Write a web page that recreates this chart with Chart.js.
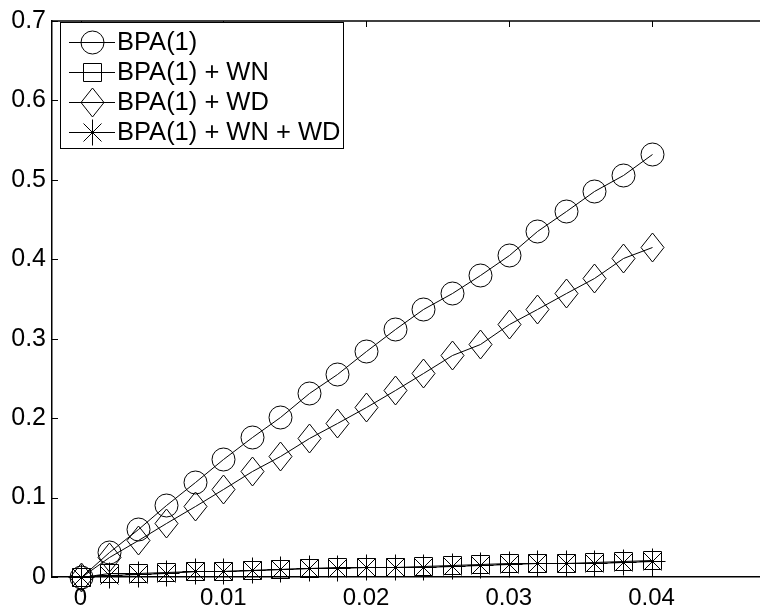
<!DOCTYPE html>
<html>
<head>
<meta charset="utf-8">
<script src="https://cdn.jsdelivr.net/npm/chart.js@4.4.1/dist/chart.umd.min.js"></script>
<style>
  html, body { margin: 0; padding: 0; background: #fff; overflow: hidden; }
</style>
</head>
<body>
<canvas id="plot" width="760" height="613"></canvas>
<script>
// values
const xValues = [0, 0.002, 0.004, 0.006, 0.008, 0.010, 0.012, 0.014, 0.016, 0.018, 0.020,
                 0.022, 0.024, 0.026, 0.028, 0.030, 0.032, 0.034, 0.036, 0.038, 0.040];
const bpa     = [0, 0.031, 0.061, 0.091, 0.120, 0.149, 0.176, 0.202, 0.232, 0.256, 0.284,
                 0.312, 0.338, 0.357, 0.380, 0.406, 0.435, 0.461, 0.486, 0.506, 0.533];
const bpaWN   = [0, 0.005, 0.005, 0.006, 0.007, 0.008, 0.009, 0.010, 0.011, 0.012, 0.012,
                 0.013, 0.014, 0.015, 0.016, 0.017, 0.018, 0.018, 0.019, 0.020, 0.021];
const bpaWD   = [0, 0.025, 0.046, 0.068, 0.090, 0.111, 0.133, 0.152, 0.175, 0.194, 0.214,
                 0.235, 0.257, 0.280, 0.293, 0.318, 0.338, 0.358, 0.376, 0.402, 0.416];
const bpaWNWD = [0, 0.003, 0.004, 0.005, 0.007, 0.008, 0.009, 0.010, 0.011, 0.011, 0.012,
                 0.013, 0.013, 0.014, 0.015, 0.016, 0.017, 0.017, 0.018, 0.019, 0.020];
const seriesNames = ['BPA(1)', 'BPA(1) + WN', 'BPA(1) + WD', 'BPA(1) + WN + WD'];
const xTicks = [0, 0.01, 0.02, 0.03, 0.04];
const yTicks = [0, 0.1, 0.2, 0.3, 0.4, 0.5, 0.6, 0.7];

const FONT = "'Liberation Sans', Arial, Helvetica, sans-serif";

// matlab-like marker images (33px, centre at 16.5)
function marker(kind) {
    const c = document.createElement('canvas');
    c.width = 33; c.height = 33;
    const g = c.getContext('2d');
    g.strokeStyle = '#000';
    g.lineWidth = 1;
    const m = 16.5;
    g.beginPath();
    if (kind === 'circle') {
        g.arc(m, m, 11.5, 0, Math.PI * 2);
    } else if (kind === 'square') {
        g.rect(m - 9, m - 9, 18, 18);
    } else if (kind === 'diamond') {
        g.moveTo(m, m - 14.5); g.lineTo(m + 11.5, m);
        g.lineTo(m, m + 14.5); g.lineTo(m - 11.5, m); g.closePath();
    } else {
        g.moveTo(m, m - 13); g.lineTo(m, m + 13);
        g.moveTo(m - 13, m); g.lineTo(m + 13, m);
        g.moveTo(m - 9, m - 9); g.lineTo(m + 9, m + 9);
        g.moveTo(m - 9, m + 9); g.lineTo(m + 9, m - 9);
    }
    g.stroke();
    return c;
}
const markers = [marker('circle'), marker('square'), marker('diamond'), marker('star')];

function pts(ys) { return xValues.map((x, i) => ({ x: x, y: ys[i] })); }
function ds(i, ys) {
    return {
        label: seriesNames[i],
        data: pts(ys),
        borderColor: '#000',
        borderWidth: 1,
        pointStyle: markers[i],
        pointRadius: 11,
        tension: 0,
        clip: false
    };
}

// snap points to pixel centres so the marker images stay sharp
const snap = {
    id: 'snap',
    beforeDatasetsDraw(chart) {
        chart.data.datasets.forEach((d, i) => {
            chart.getDatasetMeta(i).data.forEach(el => {
                el.x = Math.round(el.x) + 0.5;
                el.y = Math.round(el.y) + 0.5;
            });
        });
    }
};

// box frame, inward ticks and legend
const frame = {
    id: 'frame',
    afterDraw(chart) {
        const ctx = chart.ctx, a = chart.chartArea;
        const xs = chart.scales.x, ys = chart.scales.y;
        ctx.save();
        ctx.strokeStyle = '#000';
        ctx.lineWidth = 1.5;
        ctx.beginPath();
        ctx.moveTo(a.left, a.top); ctx.lineTo(a.right, a.top);
        ctx.stroke();
        ctx.lineWidth = 1;
        ctx.beginPath();
        xTicks.forEach(v => {
            const px = Math.round(xs.getPixelForValue(v)) + 0.5;
            ctx.moveTo(px, a.top); ctx.lineTo(px, a.top + 6);
            ctx.moveTo(px, a.bottom); ctx.lineTo(px, a.bottom - 6);
        });
        yTicks.forEach(v => {
            const py = Math.round(ys.getPixelForValue(v)) + 0.5;
            ctx.moveTo(a.left, py); ctx.lineTo(a.left + 6, py);
        });
        ctx.stroke();

        // legend
        const bx = 60.5, by = 22.5, bw = 283, bh = 126;
        ctx.fillStyle = '#fff';
        ctx.fillRect(bx, by, bw, bh);
        ctx.strokeRect(bx, by, bw, bh);
        ctx.font = '25.5px ' + FONT;
        ctx.fillStyle = '#000';
        ctx.textBaseline = 'middle';
        ctx.textAlign = 'left';
        seriesNames.forEach((name, i) => {
            const ry = 42 + i * 30;
            ctx.beginPath();
            ctx.moveTo(69, ry + 0.5); ctx.lineTo(115, ry + 0.5);
            ctx.stroke();
            ctx.drawImage(markers[i], 92 - 16, ry - 16);
            ctx.fillText(name, 117, ry + 1);
        });
        ctx.restore();
    }
};

function fmt(v) { return String(+v.toFixed(3)); }

new Chart(document.getElementById('plot'), {
    type: 'line',
    data: {
        datasets: [ds(0, bpa), ds(1, bpaWN), ds(2, bpaWD), ds(3, bpaWNWD)]
    },
    options: {
        responsive: false,
        animation: false,
        events: [],
        layout: { autoPadding: false, padding: { top: 15, left: 0, right: 0, bottom: 0 } },
        plugins: { legend: { display: false }, tooltip: { enabled: false } },
        scales: {
            x: {
                type: 'linear',
                min: -0.002,
                max: 0.0476,
                afterBuildTicks: s => { s.ticks = xTicks.map(v => ({ value: v })); },
                afterFit: s => { s.height = 36; s.paddingLeft = 0; s.paddingRight = 0; },
                grid: { drawOnChartArea: false, drawTicks: false },
                border: { color: '#000', width: 1.5 },
                ticks: {
                    padding: 7,
                    color: '#000',
                    font: { family: FONT, size: 24 },
                    maxRotation: 0,
                    callback: v => fmt(v)
                }
            },
            y: {
                type: 'linear',
                min: 0,
                max: 0.7,
                afterBuildTicks: s => { s.ticks = yTicks.map(v => ({ value: v })); },
                afterFit: s => { s.width = 52; },
                grid: { drawOnChartArea: false, drawTicks: false },
                border: { color: '#000', width: 1.5 },
                ticks: {
                    padding: 6,
                    color: '#000',
                    font: { family: FONT, size: 25 },
                    callback: v => fmt(v)
                }
            }
        }
    },
    plugins: [snap, frame]
});
</script>
</body>
</html>
